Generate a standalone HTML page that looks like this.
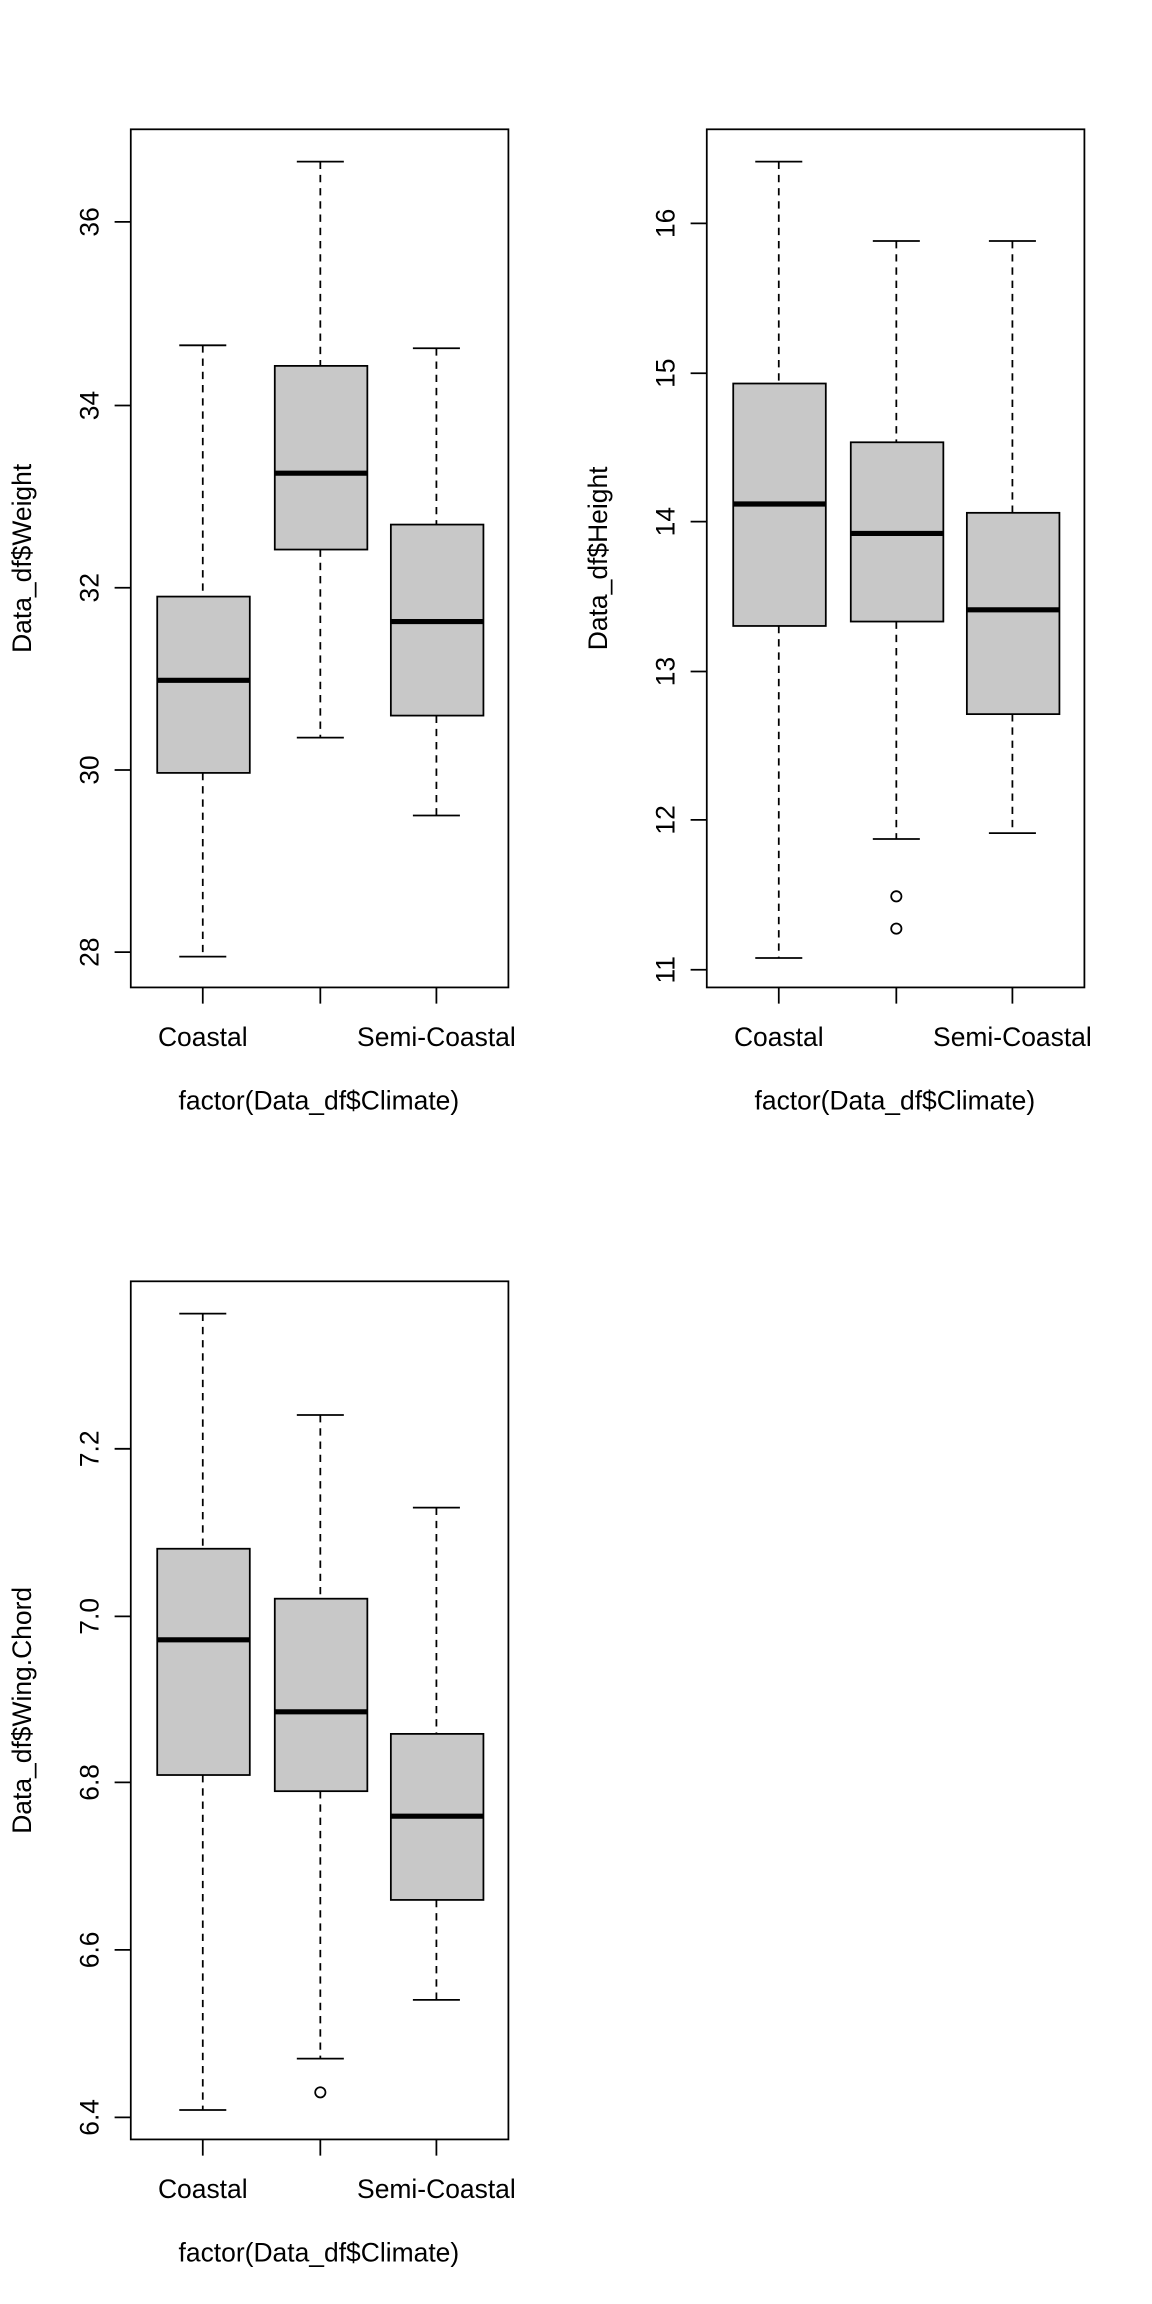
<!DOCTYPE html>
<html><head><meta charset="utf-8"><style>html,body{margin:0;padding:0;background:#fff}svg{display:block}</style></head>
<body>
<svg xmlns="http://www.w3.org/2000/svg" width="1152" height="2304" viewBox="0 0 784 1568" font-family="Liberation Sans, Arial, sans-serif" font-size="18">
<rect width="784" height="1568" fill="#fff"/>
<g stroke="#000" stroke-width="1.2" fill="none">
<rect x="89" y="88" width="257" height="584"/>
<path d="M78 648H89M78 524H89M78 400H89M78 276H89M78 151H89"/>
<path d="M138 672V683M218 672V683M297 672V683"/>
<rect x="481" y="88" width="257" height="584"/>
<path d="M470 660H481M470 558H481M470 457H481M470 355H481M470 254H481M470 152H481"/>
<path d="M530 672V683M610 672V683M689 672V683"/>
<rect x="89" y="872" width="257" height="584"/>
<path d="M78 1441H89M78 1327H89M78 1213H89M78 1100H89M78 986H89"/>
<path d="M138 1456V1467M218 1456V1467M297 1456V1467"/>
</g>
<g stroke="#000" stroke-width="1.2" stroke-dasharray="5,4">
<path d="M138 235V406M138 526V651M218 110V249M218 374V502M297 237V357M297 487V555"/>
<path d="M530 110V261M530 426V652M610 164V301M610 423V571M689 164V349M689 486V567"/>
<path d="M138 894V1054M138 1208V1436M218 963V1088M218 1219V1401M297 1026V1180M297 1293V1361"/>
</g>
<g stroke="#000" stroke-width="1.2">
<path d="M122 235H154M122 651H154M202 110H234M202 502H234M281 237H313M281 555H313"/>
<path d="M514 110H546M514 652H546M594 164H626M594 571H626M673 164H705M673 567H705"/>
<path d="M122 894H154M122 1436H154M202 963H234M202 1401H234M281 1026H313M281 1361H313"/>
</g>
<g stroke="#000" stroke-width="1.2" fill="#c8c8c8">
<rect x="107" y="406" width="63" height="120"/><rect x="187" y="249" width="63" height="125"/><rect x="266" y="357" width="63" height="130"/>
<rect x="499" y="261" width="63" height="165"/><rect x="579" y="301" width="63" height="122"/><rect x="658" y="349" width="63" height="137"/>
<rect x="107" y="1054" width="63" height="154"/><rect x="187" y="1088" width="63" height="131"/><rect x="266" y="1180" width="63" height="113"/>
</g>
<g stroke="#000" stroke-width="3.5">
<path d="M107 463H170M187 322H250M266 423H329"/>
<path d="M499 343H562M579 363H642M658 415H721"/>
<path d="M107 1116H170M187 1165H250M266 1236H329"/>
</g>
<g stroke="#000" stroke-width="1.2" fill="none">
<circle cx="610" cy="610" r="3.5"/><circle cx="610" cy="632" r="3.5"/><circle cx="218" cy="1424" r="3.5"/>
</g>
<g fill="#000" text-anchor="middle">
<text transform="translate(67,648) rotate(-90)">28</text>
<text transform="translate(67,524) rotate(-90)">30</text>
<text transform="translate(67,400) rotate(-90)">32</text>
<text transform="translate(67,276) rotate(-90)">34</text>
<text transform="translate(67,151) rotate(-90)">36</text>
<text transform="translate(459,660) rotate(-90)">11</text>
<text transform="translate(459,558) rotate(-90)">12</text>
<text transform="translate(459,457) rotate(-90)">13</text>
<text transform="translate(459,355) rotate(-90)">14</text>
<text transform="translate(459,254) rotate(-90)">15</text>
<text transform="translate(459,152) rotate(-90)">16</text>
<text transform="translate(67,1441) rotate(-90)">6.4</text>
<text transform="translate(67,1327) rotate(-90)">6.6</text>
<text transform="translate(67,1213) rotate(-90)">6.8</text>
<text transform="translate(67,1100) rotate(-90)">7.0</text>
<text transform="translate(67,986) rotate(-90)">7.2</text>
<text x="138" y="712">Coastal</text><text x="297" y="712">Semi-Coastal</text>
<text x="530" y="712">Coastal</text><text x="689" y="712">Semi-Coastal</text>
<text x="138" y="1496">Coastal</text><text x="297" y="1496">Semi-Coastal</text>
<text x="217" y="755">factor(Data_df$Climate)</text>
<text x="609" y="755">factor(Data_df$Climate)</text>
<text x="217" y="1539">factor(Data_df$Climate)</text>
<text transform="translate(21,380) rotate(-90)">Data_df$Weight</text>
<text transform="translate(413,380) rotate(-90)">Data_df$Height</text>
<text transform="translate(21,1164) rotate(-90)">Data_df$Wing.Chord</text>
</g>
</svg>
</body></html>
